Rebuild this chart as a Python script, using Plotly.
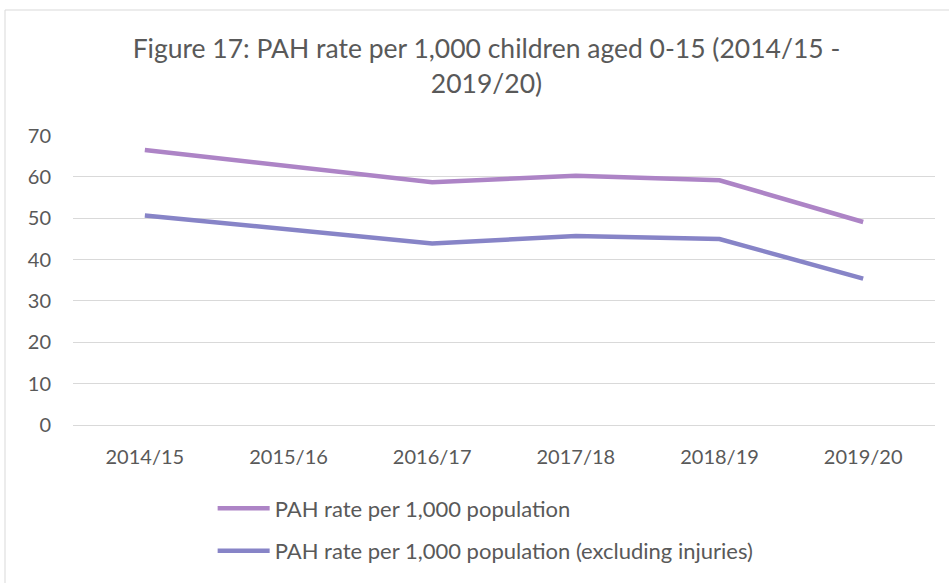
import plotly.graph_objects as go

categories = ["2014/15", "2015/16", "2016/17", "2017/18", "2018/19", "2019/20"]
pah_rate = [66.5, 62.6, 58.7, 60.3, 59.2, 49.1]
pah_rate_excl_injuries = [50.7, 47.3, 43.9, 45.7, 45.0, 35.4]
y_ticks = [0, 10, 20, 30, 40, 50, 60, 70]

title_text = "Figure 17: PAH rate per 1,000 children aged 0-15 (2014/15 -<br>2019/20)"
name1 = "PAH rate per 1,000 population"
name2 = "PAH rate per 1,000 population (excluding injuries)"

FONT = "Lato, Calibri, Carlito, sans-serif"
TXT = "#595959"
GRID = "#d9d9d9"

fig = go.Figure()
fig.add_trace(go.Scatter(x=categories, y=pah_rate, mode="lines", name=name1,
                         legendgroup="a",
                         line=dict(color="#ad84c6", width=4.5)))
fig.add_trace(go.Scatter(x=categories, y=pah_rate_excl_injuries, mode="lines", name=name2,
                         legendgroup="b",
                         line=dict(color="#8784c7", width=4.5)))

fig.update_layout(
    width=949, height=583,
    margin=dict(l=73, r=14, t=135, b=158, autoexpand=False),
    paper_bgcolor="white", plot_bgcolor="white",
    font=dict(family=FONT, color=TXT, size=20),
    title=dict(text=title_text, x=0.5126, xanchor="center", y=0.90, yanchor="top",
               font=dict(size=26.5, color=TXT, family=FONT)),
    showlegend=True,
    legend=dict(orientation="v", x=0.162, xanchor="left", y=-0.215, yanchor="top",
                tracegroupgap=11, itemwidth=52,
                font=dict(size=22, color=TXT, family=FONT),
                bgcolor="rgba(0,0,0,0)"),
    xaxis=dict(type="category", range=[-0.5, 5.5], showgrid=False, showline=False,
               zeroline=False, ticks="outside", ticklen=14, tickcolor="rgba(0,0,0,0)",
               tickfont=dict(size=20, color=TXT)),
    yaxis=dict(range=[0, 70.15], tickvals=y_ticks, showgrid=True, gridcolor=GRID, gridwidth=1,
               zeroline=True, zerolinecolor=GRID, zerolinewidth=1, showline=False,
               ticks="", ticklabelstandoff=21,
               tickfont=dict(size=20, color=TXT)),
    shapes=[dict(type="rect", xref="paper", yref="paper",
                 x0=(5 - 73) / 862, x1=1.2, y0=-0.8, y1=(425 - 10) / 290,
                 line=dict(color=GRID, width=1), fillcolor="rgba(0,0,0,0)", layer="below")],
)

fig.write_html("out.html", config={"displayModeBar": False},
               post_script="document.body.style.margin='0';document.body.style.overflow='hidden';")
